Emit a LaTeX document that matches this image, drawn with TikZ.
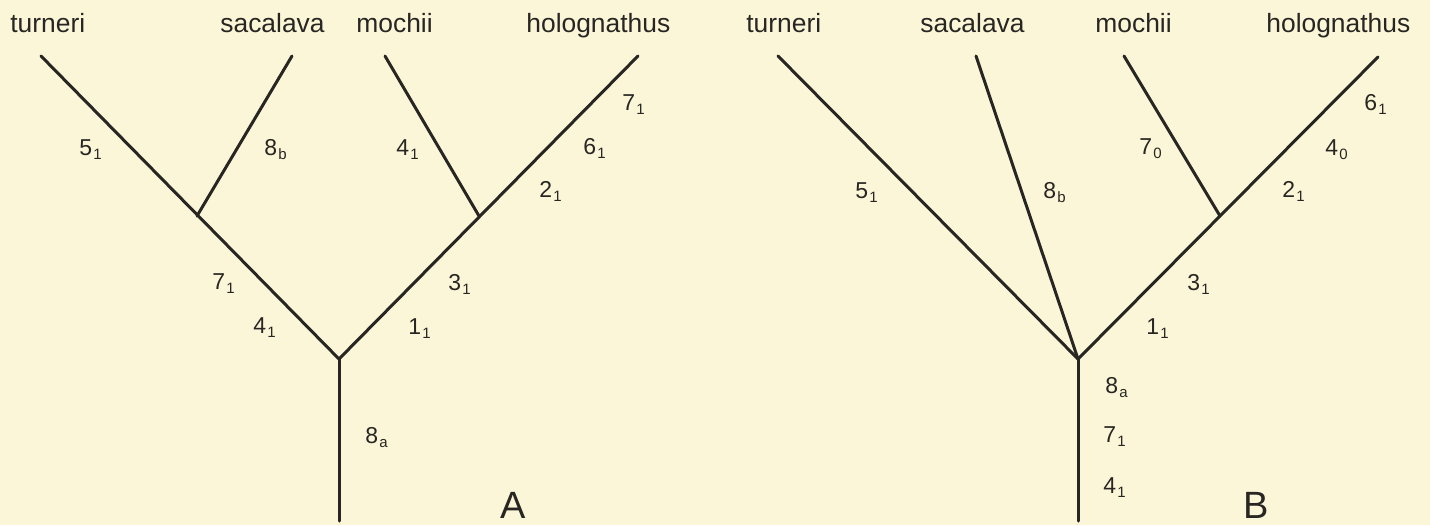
\documentclass[tikz,border=0pt]{standalone}
\usepackage{fontspec}
\setmainfont{Liberation Sans}
\usetikzlibrary{positioning}
\definecolor{paper}{RGB}{252,246,216}
\definecolor{ink}{RGB}{40,38,34}
\newcommand{\chr}[2]{#1\kern0.6pt\raisebox{-0.35ex}{\fontsize{7.5}{8}\selectfont #2}}

\begin{document}
\begin{tikzpicture}[
  x=0.5pt, y=-0.5pt,
  taxon/.style={anchor=base west, inner sep=0pt, font=\fontsize{13.2}{15}\selectfont, text=ink},
  chg/.style={anchor=base west, inner sep=0pt, font=\fontsize{11.5}{13}\selectfont, text=ink},
  panel/.style={anchor=base west, inner sep=0pt, font=\fontsize{19}{22}\selectfont, text=ink},
  branch/.style={draw=ink, line width=1.5pt, line cap=round, line join=miter}
]
\fill[paper] (0,0) rectangle (1430,525);

% tree A
\node[taxon] (tA) at (10,32) {turneri};
\node[taxon] (sA) at (220,32) {sacalava};
\node[taxon] (mA) at (356,32) {mochii};
\node[taxon] (hA) at (526,32) {holognathus};
\coordinate (tA1) at (41,56);
\coordinate (sA1) at (292,56);
\coordinate (mA1) at (385,56);
\coordinate (hA1) at (638,56);
\coordinate (nA1) at (197,216);
\coordinate (nA2) at (479,216);
\coordinate (rA) at (339,359);
\coordinate (bA) at (339,521);
\draw[branch] (tA1) -- (rA) -- (hA1);
\draw[branch] (sA1) -- (nA1);
\draw[branch] (mA1) -- (nA2);
\draw[branch] (rA) -- (bA);
\node[chg] (a51) at (79,155) {\chr{5}{1}};
\node[chg] (a8b) at (264,155) {\chr{8}{b}};
\node[chg] (a41) at (396,155) {\chr{4}{1}};
\node[chg] (a71) at (622,110) {\chr{7}{1}};
\node[chg] (a61) at (583,154) {\chr{6}{1}};
\node[chg] (a21) at (539,197) {\chr{2}{1}};
\node[chg] (a71b) at (212,289) {\chr{7}{1}};
\node[chg] (a41b) at (253,333) {\chr{4}{1}};
\node[chg] (a31) at (448,290) {\chr{3}{1}};
\node[chg] (a11) at (408,334) {\chr{1}{1}};
\node[chg] (a8a) at (365,443) {\chr{8}{a}};
\node[panel] (A) at (500,518) {A};

% tree B
\node[taxon] (tB) at (746,32) {turneri};
\node[taxon] (sB) at (920,32) {sacalava};
\node[taxon] (mB) at (1095,32) {mochii};
\node[taxon] (hB) at (1266,32) {holognathus};
\coordinate (tB1) at (778,56);
\coordinate (sB1) at (976,56);
\coordinate (mB1) at (1124,56);
\coordinate (hB1) at (1378,57);
\coordinate (nB2) at (1220,216);
\coordinate (rB) at (1078,359);
\coordinate (bB) at (1078,521);
\draw[branch] (tB1) -- (rB) -- (hB1);
\draw[branch] (sB1) -- (rB);
\draw[branch] (mB1) -- (nB2);
\draw[branch] (rB) -- (bB);
\node[chg] (b51) at (855,198) {\chr{5}{1}};
\node[chg] (b8b) at (1043,198) {\chr{8}{b}};
\node[chg] (b70) at (1139,154) {\chr{7}{0}};
\node[chg] (b61) at (1364,110) {\chr{6}{1}};
\node[chg] (b40) at (1325,155) {\chr{4}{0}};
\node[chg] (b21) at (1282,197) {\chr{2}{1}};
\node[chg] (b31) at (1187,290) {\chr{3}{1}};
\node[chg] (b11) at (1146,334) {\chr{1}{1}};
\node[chg] (b8a) at (1105,393) {\chr{8}{a}};
\node[chg] (b71) at (1103,442) {\chr{7}{1}};
\node[chg] (b41) at (1103,493) {\chr{4}{1}};
\node[panel] (B) at (1243,518) {B};
\end{tikzpicture}
\end{document}
